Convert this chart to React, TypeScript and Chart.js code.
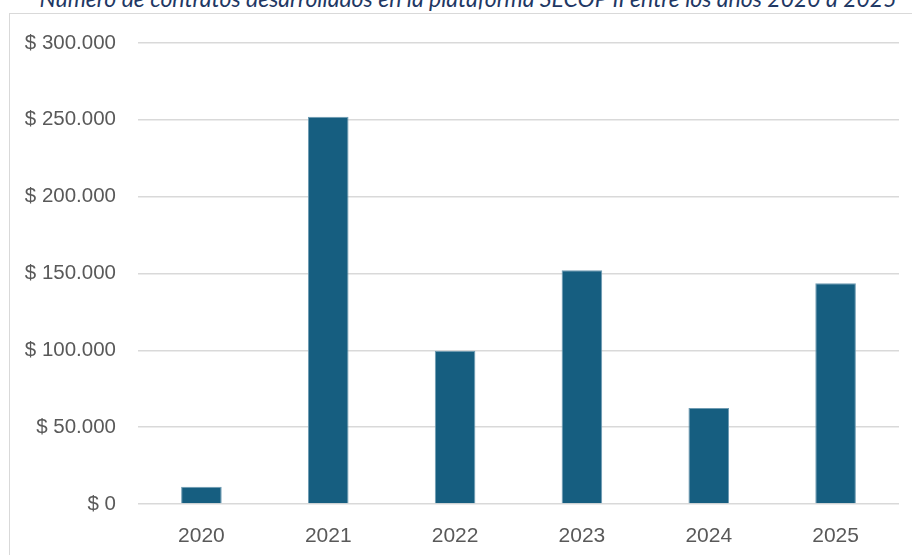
import React, { useEffect, useRef } from "react";
import { Chart, registerables } from "chart.js";

Chart.register(...registerables);

const categories = ["2020", "2021", "2022", "2023", "2024", "2025"];
const contractValues = [11200, 252000, 99800, 152100, 62400, 143600];
const yTicks = [0, 50000, 100000, 150000, 200000, 250000, 300000];
const titleText =
  "Número de contratos desarrollados en la plataforma SECOP II entre los años 2020 a 2025";

function formatPeso(v: number): string {
  const s = Math.round(v).toString().replace(/\B(?=(\d{3})+(?!\d))/g, ".");
  return "$ " + s;
}

export default function App() {
  const canvasRef = useRef<HTMLCanvasElement | null>(null);

  useEffect(() => {
    if (!canvasRef.current) return;
    const chart = new Chart(canvasRef.current, {
      type: "bar",
      data: {
        labels: categories,
        datasets: [
          {
            data: contractValues,
            backgroundColor: "#165E80",
            borderColor: "#6E9BB2",
            borderWidth: 1,
            barPercentage: 0.32,
            categoryPercentage: 1,
          },
        ],
      },
      options: {
        responsive: false,
        animation: false,
        maintainAspectRatio: false,
        layout: { padding: { top: 43, left: 0, right: 13, bottom: 0 } },
        plugins: {
          legend: { display: false },
          title: { display: false },
          tooltip: { enabled: false },
        },
        scales: {
          x: {
            grid: { display: false, drawTicks: false },
            border: { display: false },
            ticks: {
              color: "#595959",
              font: { family: "'Liberation Sans', Arial, sans-serif", size: 21 },
              padding: 20,
            },
            afterFit: (scale: any) => {
              scale.height = 51;
            },
          },
          y: {
            min: 0,
            max: 300000,
            afterBuildTicks: (scale: any) => {
              scale.ticks = yTicks.map((v) => ({ value: v }));
            },
            grid: { color: "#D9D9D9", lineWidth: 1.5, drawTicks: false },
            border: { display: false },
            ticks: {
              color: "#595959",
              font: { family: "'Liberation Sans', Arial, sans-serif", size: 20.5 },
              padding: 22,
              callback: (v: any) => formatPeso(Number(v)),
            },
            afterFit: (scale: any) => {
              scale.width = 138;
            },
          },
        },
      },
    });
    return () => chart.destroy();
  }, []);

  return (
    <div
      style={{
        position: "fixed",
        left: 0,
        top: 0,
        width: 912,
        height: 555,
        overflow: "hidden",
        background: "#FFFFFF",
      }}
    >
      <div
        style={{
          position: "absolute",
          left: 9,
          top: 13,
          width: 940,
          height: 600,
          border: "1.5px solid #D9D9D9",
          boxSizing: "border-box",
        }}
      />
      <div
        style={{
          position: "absolute",
          left: 0,
          top: -13,
          width: 936,
          textAlign: "center",
          fontFamily: "Lato, 'Open Sans', sans-serif",
          fontStyle: "italic",
          fontSize: 23,
          color: "#1F3864",
          whiteSpace: "nowrap",
          lineHeight: "23px",
        }}
      >
        {titleText}
      </div>
      <canvas
        ref={canvasRef}
        width={912}
        height={555}
        style={{ position: "absolute", left: 0, top: 0, width: 912, height: 555 }}
      />
    </div>
  );
}
